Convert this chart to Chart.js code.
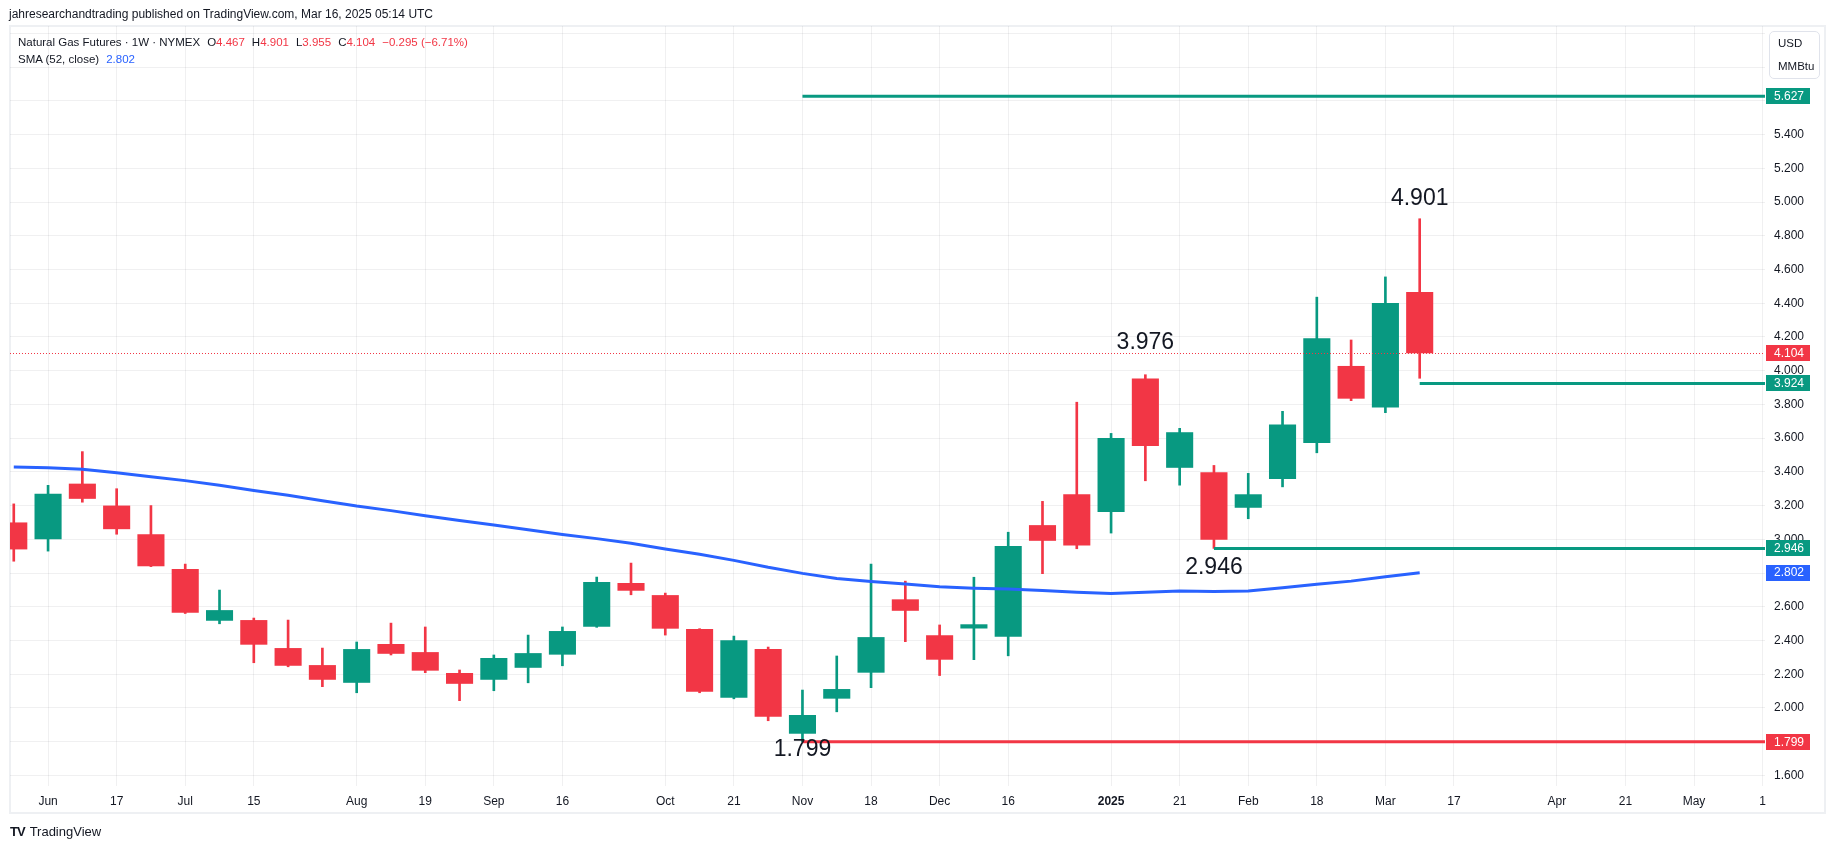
<!DOCTYPE html>
<html lang="en">
<head>
  <meta charset="UTF-8">
  <title>Natural Gas Futures · 1W · NYMEX</title>
  <script src="https://cdn.jsdelivr.net/npm/chart.js"></script>
  <style>
    body { margin: 0; background: #fff; font-family: "Liberation Sans", Arial, sans-serif; color: #131722; }
    #wrap { position: relative; width: 1835px; height: 849px; overflow: hidden; }
    #frame { position: absolute; left: 9px; top: 25px; width: 1817px; height: 789px; border: 2px solid #eef0f3; box-sizing: border-box; }
    canvas { position: absolute; left: 0; top: 0; }
    .pub { position: absolute; left: 9px; top: 6px; font-size: 12px; line-height: 16px; white-space: nowrap; }
    .legend { position: absolute; left: 18px; top: 34px; font-size: 11.5px; line-height: 16.5px; white-space: nowrap; }
    .legend .gap { margin-left: 7px; }
    .red { color: #F23645; }
    .blue { color: #2962FF; }
    .unit { position: absolute; left: 1769px; top: 31px; width: 51px; height: 48px; border: 1px solid #e0e3eb; border-radius: 5px; box-sizing: border-box; font-size: 11.5px; line-height: 23px; padding: 0 0 0 8px; }
    .logo { position: absolute; left: 10px; top: 824px; font-size: 13px; line-height: 16px; white-space: nowrap; }
    .logo b { font-size: 13px; letter-spacing: -1px; margin-right: 5px; }
  </style>
</head>
<body>
<div id="wrap">
  <div id="frame"></div>
  <canvas id="chart" width="1835" height="849"></canvas>
  <div class="pub">jahresearchandtrading published on TradingView.com, Mar 16, 2025 05:14 UTC</div>
  <div class="legend">
    Natural Gas Futures · 1W · NYMEX<span class="gap">O</span><span class="red">4.467</span><span class="gap">H</span><span class="red">4.901</span><span class="gap">L</span><span class="red">3.955</span><span class="gap">C</span><span class="red">4.104</span><span class="gap red">−0.295 (−6.71%)</span><br>
    SMA (52, close)<span class="gap blue">2.802</span>
  </div>
  <div class="unit">USD<br>MMBtu</div>
  <div class="logo"><b>TV</b>TradingView</div>
</div>

<script>
  // weekly bars, May 27 2024 .. Mar 10 2025
  const opens  = [3.10, 3.00, 3.33, 3.20, 3.03, 2.824, 2.517, 2.521, 2.355, 2.254,
                  2.149, 2.379, 2.331, 2.207, 2.167, 2.238, 2.316, 2.482, 2.741, 2.669,
                  2.468, 2.060, 2.349, 1.847, 2.055, 2.209, 2.644, 2.431, 2.471, 2.422,
                  3.084, 3.267, 3.162, 3.953, 3.424, 3.398, 3.187, 3.358, 3.571, 4.028,
                  3.781, 4.467];
  const highs  = [3.21, 3.32, 3.52, 3.30, 3.20, 2.853, 2.699, 2.533, 2.521, 2.355,
                  2.391, 2.503, 2.480, 2.225, 2.314, 2.432, 2.480, 2.776, 2.859, 2.681,
                  2.470, 2.426, 2.361, 2.106, 2.308, 2.853, 2.752, 2.492, 2.775, 3.042,
                  3.225, 3.813, 3.628, 3.976, 3.658, 3.438, 3.391, 3.759, 4.436, 4.182,
                  4.556, 4.901];
  const lows   = [2.87, 2.93, 3.22, 3.03, 2.838, 2.56, 2.499, 2.268, 2.244, 2.126,
                  2.090, 2.314, 2.209, 2.043, 2.102, 2.149, 2.250, 2.478, 2.671, 2.432,
                  2.090, 2.054, 1.924, 1.799, 1.977, 2.120, 2.393, 2.192, 2.286, 2.309,
                  2.796, 2.944, 3.037, 3.347, 3.321, 2.946, 3.122, 3.311, 3.513, 3.822,
                  3.751, 3.955];
  const closes = [2.94, 3.27, 3.24, 3.06, 2.84, 2.565, 2.580, 2.375, 2.250, 2.167,
                  2.349, 2.321, 2.221, 2.143, 2.296, 2.325, 2.456, 2.747, 2.695, 2.470,
                  2.096, 2.402, 1.948, 1.958, 2.112, 2.420, 2.576, 2.286, 2.496, 2.960,
                  2.991, 2.963, 3.600, 3.553, 3.635, 2.998, 3.267, 3.681, 4.193, 3.834,
                  4.401, 4.104];
  const sma52  = [3.429, 3.425, 3.415, 3.395, 3.371, 3.348, 3.320, 3.290, 3.261, 3.229,
                  3.197, 3.170, 3.140, 3.112, 3.085, 3.057, 3.029, 3.004, 2.976, 2.942,
                  2.911, 2.875, 2.834, 2.798, 2.768, 2.750, 2.735, 2.718, 2.710, 2.705,
                  2.696, 2.686, 2.679, 2.686, 2.694, 2.690, 2.694, 2.712, 2.733, 2.752,
                  2.778, 2.802];

  // time axis labels, one slot per week (bars + empty weeks to the right)
  const axisLabels = ['', 'Jun', '', '17', '', 'Jul', '', '15', '', '', 'Aug', '', '19', '', 'Sep', '', '16',
                      '', '', 'Oct', '', '21', '', 'Nov', '', '18', '', 'Dec', '', '16', '', '', '2025', '',
                      '21', '', 'Feb', '', '18', '', 'Mar', '', '17', '', '', 'Apr', '', '21', '', 'May', '', '1'];

  // horizontal levels drawn on the chart and the bar they start from
  const levels    = [5.627, 3.924, 2.946, 1.799];
  const levelFrom = [23, 41, 35, 23];

  // bars whose high / low got a text note
  const noteBars  = [41, 33, 35, 23];
  const noteSide  = ['high', 'high', 'low', 'low'];

  const GREEN = '#089981', RED = '#F23645', BLUE = '#2962FF';
  const levelColors = [GREEN, GREEN, GREEN, RED];
  const noteOffsets = [-20, -32, 19, 8];
  const X_MIN = -0.11, X_MAX = 51.07;
  const FONT = '"Liberation Sans", Arial, sans-serif';
  const last = closes.length - 1;

  const bodyColors = opens.map((o, i) => closes[i] >= o ? GREEN : RED);

  const datasets = [];
  levels.forEach((p, k) => {
    datasets.push({
      type: 'line', order: 0,
      data: [{ x: levelFrom[k], y: p }, { x: X_MAX, y: p }],
      borderColor: levelColors[k], borderWidth: 3, pointRadius: 0, borderCapStyle: 'butt'
    });
  });
  datasets.push({
    type: 'line', order: 1,
    data: sma52.map((v, i) => ({ x: i, y: v })),
    borderColor: BLUE, borderWidth: 3, pointRadius: 0, tension: 0
  });
  datasets.push({
    type: 'bar', order: 2, grouped: false,
    data: opens.map((o, i) => ({ x: i, y: [o, closes[i]] })),
    backgroundColor: bodyColors, borderWidth: 0,
    barPercentage: 0.79, categoryPercentage: 1
  });
  datasets.push({
    type: 'bar', order: 3, grouped: false,
    data: lows.map((l, i) => ({ x: i, y: [l, highs[i]] })),
    backgroundColor: bodyColors, borderWidth: 0, barThickness: 2
  });

  // dotted last-price line, price tags on the axis and the text notes
  const overlay = {
    id: 'overlay',
    afterDatasetsDraw(chart) {
      const { ctx, chartArea: a, scales: { x, y } } = chart;
      ctx.save();
      ctx.strokeStyle = RED;
      ctx.lineWidth = 1;
      ctx.setLineDash([1, 2]);
      const py = Math.round(y.getPixelForValue(closes[last])) + 0.5;
      ctx.beginPath(); ctx.moveTo(a.left, py); ctx.lineTo(a.right, py); ctx.stroke();
      ctx.setLineDash([]);

      ctx.fillStyle = '#131722';
      ctx.font = '23px ' + FONT;
      ctx.textAlign = 'center';
      ctx.textBaseline = 'middle';
      noteBars.forEach((b, k) => {
        const v = noteSide[k] === 'high' ? highs[b] : lows[b];
        ctx.fillText(v.toFixed(3), x.getPixelForValue(b), y.getPixelForValue(v) + noteOffsets[k]);
      });
      ctx.restore();
    },
    afterDraw(chart) {
      const { ctx, chartArea: a, scales: { y } } = chart;
      const tags = [
        [levels[0], GREEN], [closes[last], RED], [levels[1], GREEN],
        [levels[2], GREEN], [sma52[last], BLUE], [levels[3], RED]
      ];
      ctx.save();
      ctx.font = '12px ' + FONT;
      ctx.textAlign = 'left';
      ctx.textBaseline = 'middle';
      tags.forEach(([v, c]) => {
        const py = y.getPixelForValue(v);
        ctx.fillStyle = c;
        ctx.fillRect(a.right + 1, Math.round(py) - 8, 44, 16);
        ctx.fillStyle = '#fff';
        ctx.fillText(v.toFixed(3), a.right + 9, py + 0.5);
      });
      ctx.restore();
    }
  };

  new Chart(document.getElementById('chart'), {
    type: 'bar',
    data: { datasets },
    plugins: [overlay],
    options: {
      responsive: false,
      animation: false,
      devicePixelRatio: 1,
      layout: { padding: { left: 10, top: 26, right: 12, bottom: 36 } },
      plugins: { legend: { display: false }, tooltip: { enabled: false } },
      scales: {
        x: {
          type: 'linear', min: X_MIN, max: X_MAX, offset: false,
          afterBuildTicks: s => { s.ticks = axisLabels.map((t, i) => t ? { value: i } : null).filter(Boolean); },
          afterFit: s => { s.height = 27; },
          grid: { color: 'rgba(42,46,57,0.07)', drawTicks: false, offset: false },
          border: { display: false },
          ticks: {
            autoSkip: false, maxRotation: 0, padding: 8, color: '#131722',
            font: c => ({ family: FONT, size: 12, weight: axisLabels[c.tick && c.tick.value] === '2025' ? 'bold' : 'normal' }),
            callback: v => axisLabels[v]
          }
        },
        y: {
          position: 'right', min: 1.537, max: 6.044,
          afterFit: s => { s.width = 58; },
          grid: { color: 'rgba(42,46,57,0.07)', drawTicks: false },
          border: { display: false },
          ticks: {
            stepSize: 0.2, includeBounds: false, padding: 9, color: '#131722',
            font: { family: FONT, size: 12 },
            callback: v => v > 5.5 ? '' : v.toFixed(3)
          }
        }
      }
    }
  });
</script>
</body>
</html>
